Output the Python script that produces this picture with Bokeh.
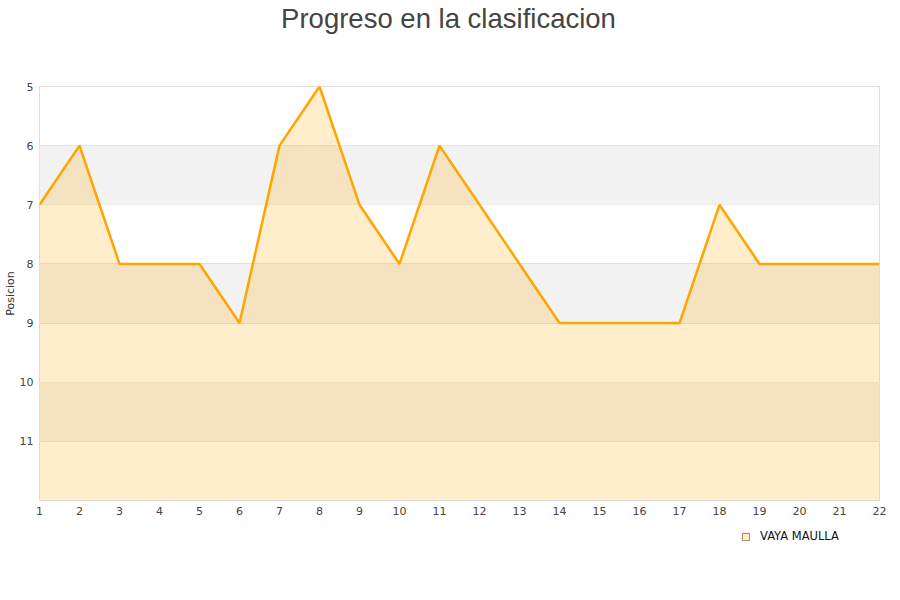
from bokeh.plotting import figure
from bokeh.layouts import column
from bokeh.models import Range1d, FixedTicker, BoxAnnotation, Legend, LegendItem
from bokeh.embed import file_html
from bokeh.resources import INLINE

jornadas = list(range(1, 23))
posiciones = [7, 6, 8, 8, 8, 9, 6, 5, 7, 8, 6, 7, 8, 9, 9, 9, 9, 7, 8, 8, 8, 8]
y_ticks = [5, 6, 7, 8, 9, 10, 11]
bands = [(6, 7), (8, 9), (10, 11)]
team = "VAYA MAULLA F.C."
title = "Progreso en la clasificacion"


def strip(h, w):
    f = figure(frame_width=w, frame_height=h, output_backend="svg", toolbar_location=None,
               x_range=Range1d(0, 1), y_range=Range1d(0, 1),
               x_axis_location=None, y_axis_location=None,
               min_border_left=0, min_border_right=0, min_border_top=0, min_border_bottom=0)
    f.outline_line_color = None
    f.grid.visible = False
    return f


# title strip
p0 = strip(1, 818)
p0.title.text = title
p0.title.align = "center"
p0.title.text_font = "Liberation Sans"
p0.title.text_font_size = "27.5px"
p0.title.text_font_style = "normal"
p0.title.text_color = "#444444"
p0.title.standoff = 0

# main chart
p = figure(frame_width=840, frame_height=414, output_backend="svg", toolbar_location=None,
           x_range=Range1d(1, 22), y_range=Range1d(12, 5),
           min_border_left=35, min_border_right=12, min_border_top=52, min_border_bottom=24)

p.outline_line_color = "#dddddd"
p.background_fill_color = "white"

for b0, b1 in bands:
    p.add_layout(BoxAnnotation(bottom=b1, top=b0, fill_color="#f2f2f2", fill_alpha=1.0,
                               line_color=None, level="underlay"))

p.xaxis.ticker = FixedTicker(ticks=jornadas)
p.yaxis.ticker = FixedTicker(ticks=y_ticks)
for ax in (p.xaxis[0], p.yaxis[0]):
    ax.axis_line_color = None
    ax.major_tick_line_color = None
    ax.minor_tick_line_color = None
    ax.major_tick_out = 0
    ax.major_tick_in = 0
    ax.major_label_text_font = "DejaVu Sans"
    ax.major_label_text_font_size = "11px"
    ax.major_label_text_color = "#444444"
p.xaxis.major_label_standoff = 6
p.yaxis.major_label_standoff = 6
p.yaxis.axis_label = "Posicion"
p.yaxis.axis_label_text_font = "DejaVu Sans"
p.yaxis.axis_label_text_font_size = "11px"
p.yaxis.axis_label_text_font_style = "normal"
p.yaxis.axis_label_text_color = "#333333"
p.yaxis.axis_label_standoff = 0

p.xgrid.grid_line_color = None
p.ygrid.ticker = FixedTicker(ticks=y_ticks + [12])
p.ygrid.grid_line_color = "#e0e0e0"

p.varea(x=jornadas, y1=posiciones, y2=[12] * len(jornadas), fill_color="#ffa500", fill_alpha=0.2)
p.line(jornadas, posiciones, line_color="#ffa500", line_width=2.5)

# legend strip below the chart
nan = float("nan")
p2 = strip(44, 840)
dummy = p2.quad(left=[nan], right=[nan], top=[nan], bottom=[nan], fill_color="#ffedcc",
                line_color="#a08060", line_width=1)
legend = Legend(items=[LegendItem(label=team, renderers=[dummy])], location=(741, 25),
                orientation="horizontal", border_line_color=None, background_fill_alpha=0,
                glyph_width=9, glyph_height=9, label_standoff=10, label_text_font="DejaVu Sans",
                label_text_font_size="11.5px", label_text_color="#111111",
                padding=4, margin=0, spacing=4)
p2.add_layout(legend, "center")

open("out.html", "w").write(file_html(column(p0, p, p2, spacing=0), INLINE))
